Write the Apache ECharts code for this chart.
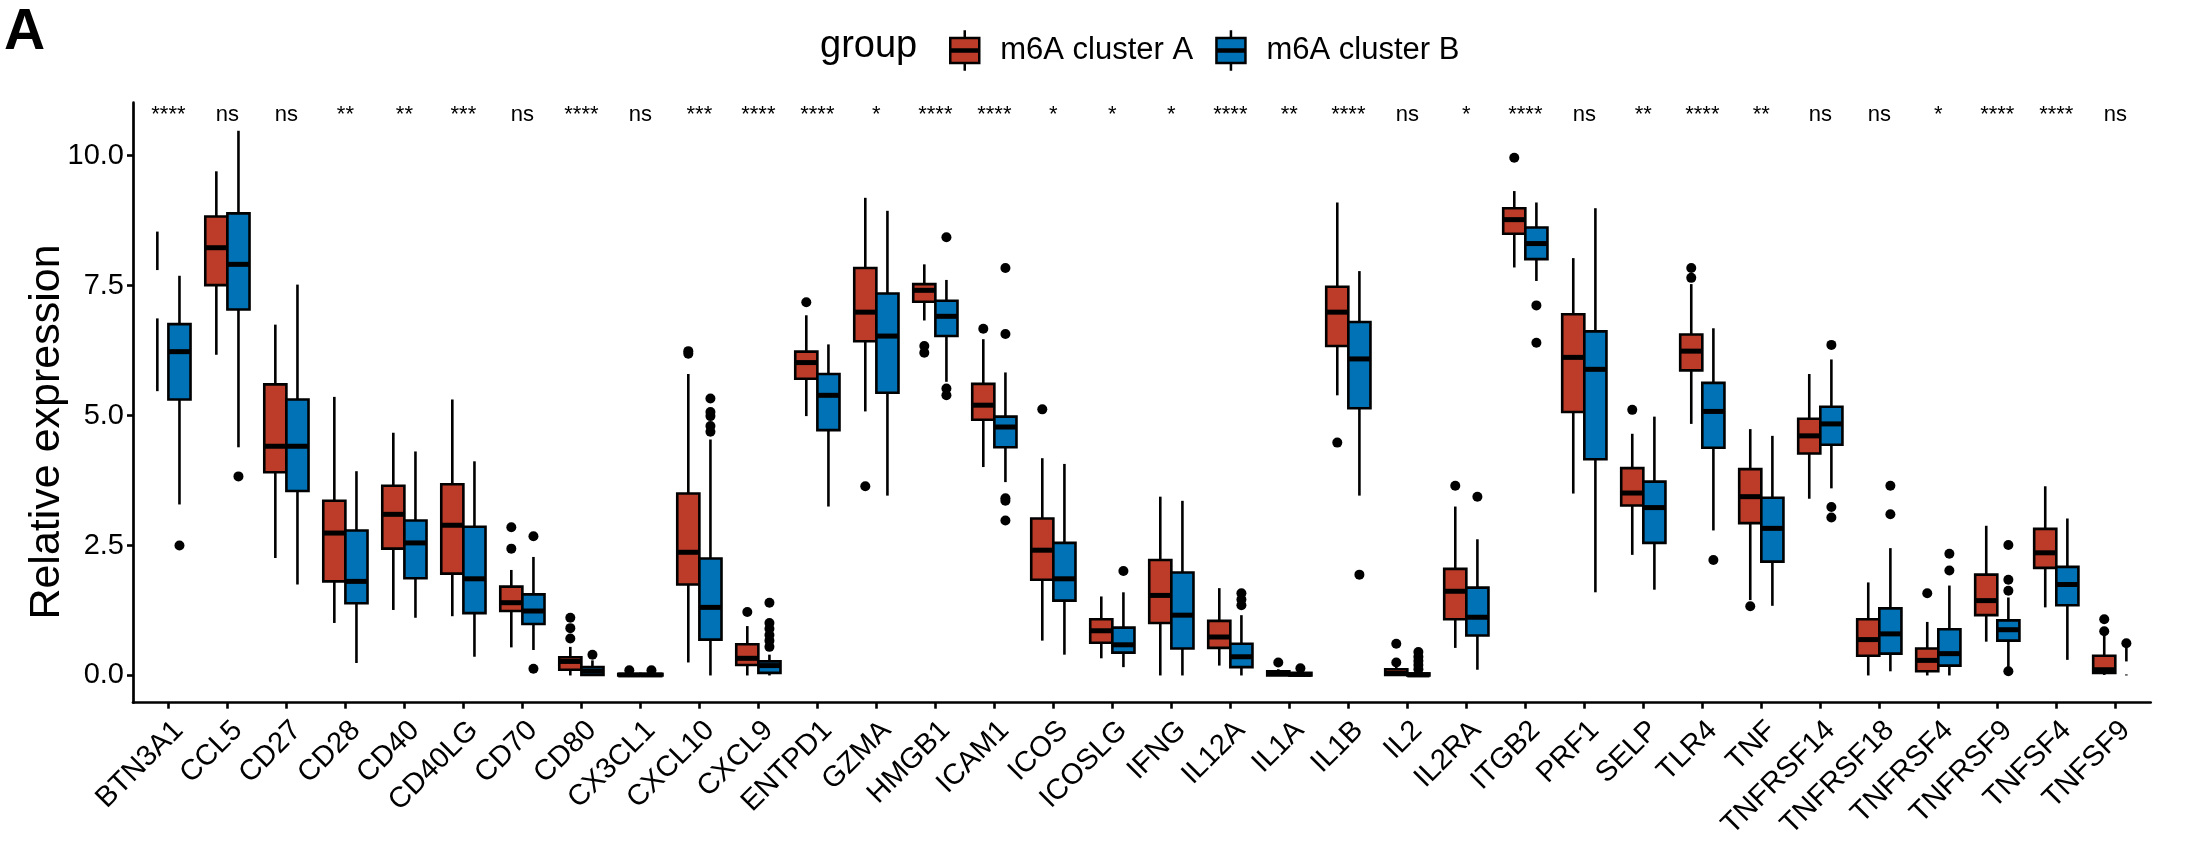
<!DOCTYPE html>
<html><head><meta charset="utf-8">
<script src="https://cdn.jsdelivr.net/npm/echarts@6/dist/echarts.min.js"></script>
<style>html,body{margin:0;padding:0;background:#fff}#chart{width:2189px;height:842px}</style>
</head><body><div id="chart"></div>
<script>
// ---------------- data ----------------
const categories = ['BTN3A1','CCL5','CD27','CD28','CD40','CD40LG','CD70','CD80','CX3CL1','CXCL10','CXCL9','ENTPD1','GZMA','HMGB1','ICAM1','ICOS','ICOSLG','IFNG','IL12A','IL1A','IL1B','IL2','IL2RA','ITGB2','PRF1','SELP','TLR4','TNF','TNFRSF14','TNFRSF18','TNFRSF4','TNFRSF9','TNFSF4','TNFSF9'];
const sigLabels = ['****','ns','ns','**','**','***','ns','****','ns','***','****','****','*','****','****','*','*','*','****','**','****','ns','*','****','ns','**','****','**','ns','ns','*','****','****','ns'];
const groupNames = ['m6A cluster A', 'm6A cluster B'];
// [lower whisker, Q1, median, Q3, upper whisker]  (median null = box not drawn)
const boxA = [
  [5.47,6.87,null,7.80,8.54],[6.17,7.51,8.23,8.83,9.70],[2.26,3.91,4.41,5.60,6.75],[1.01,1.81,2.74,3.36,5.36],
  [1.26,2.44,3.10,3.65,4.67],[1.14,1.96,2.89,3.68,5.31],[0.54,1.24,1.40,1.71,2.03],[0.00,0.11,0.27,0.35,0.55],
  [0.00,0.00,0.01,0.03,0.05],[0.25,1.75,2.37,3.50,5.80],[0.00,0.20,0.33,0.60,0.95],[4.99,5.71,6.02,6.23,6.93],
  [5.08,6.43,6.99,7.84,9.19],[6.83,7.19,7.41,7.53,7.91],[4.01,4.92,5.20,5.61,6.47],[0.67,1.84,2.41,3.02,4.18],
  [0.33,0.63,0.86,1.08,1.52],[0.00,1.01,1.54,2.22,3.44],[0.19,0.53,0.74,1.05,1.68],[0.00,0.00,0.04,0.08,0.12],
  [5.39,6.34,6.99,7.48,9.10],[0.00,0.01,0.04,0.12,0.17],[0.53,1.08,1.62,2.05,3.25],[7.85,8.50,8.77,8.99,9.32],
  [3.50,5.07,6.12,6.95,8.03],[2.32,3.27,3.51,3.99,4.65],[4.84,5.87,6.24,6.56,7.53],[1.45,2.93,3.44,3.97,4.74],
  [3.40,4.27,4.61,4.94,5.80],[0.00,0.38,0.69,1.08,1.79],[0.00,0.08,0.29,0.52,1.03],[0.65,1.16,1.44,1.94,2.88],
  [1.31,2.07,2.36,2.82,3.64],[0.01,0.05,0.11,0.38,0.78]
];
const boxB = [
  [3.29,5.31,6.23,6.76,7.69],[4.39,7.04,7.91,8.89,10.48],[1.75,3.55,4.41,5.31,7.52],[0.24,1.39,1.81,2.79,3.93],
  [1.11,1.87,2.55,2.98,4.31],[0.36,1.20,1.86,2.86,4.12],[0.49,0.99,1.24,1.56,2.28],[0.00,0.01,0.08,0.16,0.29],
  [0.00,0.00,0.01,0.03,0.05],[0.00,0.69,1.31,2.25,4.54],[0.00,0.05,0.19,0.27,0.40],[3.25,4.72,5.39,5.80,6.37],
  [3.46,5.44,6.53,7.35,8.94],[5.65,6.53,6.91,7.21,7.61],[3.72,4.39,4.78,4.98,5.83],[0.40,1.44,1.86,2.55,4.07],
  [0.16,0.44,0.59,0.92,1.60],[0.00,0.52,1.16,1.98,3.36],[0.00,0.16,0.36,0.61,1.16],[0.00,0.00,0.02,0.05,0.08],
  [3.46,5.14,6.09,6.80,7.78],[0.00,0.00,0.01,0.04,0.08],[0.11,0.77,1.12,1.69,2.62],[7.59,8.01,8.31,8.62,9.10],
  [1.60,4.16,5.89,6.62,8.99],[1.65,2.55,3.23,3.73,4.98],[2.79,4.38,5.08,5.63,6.68],[1.34,2.19,2.83,3.42,4.61],
  [3.60,4.44,4.84,5.17,6.08],[0.08,0.42,0.80,1.29,2.45],[0.00,0.19,0.42,0.89,1.73],[0.13,0.67,0.88,1.06,1.50],
  [0.30,1.35,1.75,2.09,3.02],[0.00,0.02,null,0.27,0.57]
];
const outliersA = [
  ['CD70',2.85],['CD70',2.44],['CD80',1.11],['CD80',0.91],['CD80',0.71],['CX3CL1',0.10],
  ['CXCL10',6.24],['CXCL10',6.19],['CXCL9',1.22],['ENTPD1',7.18],['GZMA',3.64],['HMGB1',6.34],['HMGB1',6.21],
  ['ICAM1',6.67],['ICOS',5.12],['IL1A',0.25],['IL1B',4.48],['IL2',0.61],['IL2',0.25],['IL2RA',3.65],
  ['ITGB2',9.96],['SELP',5.11],['TLR4',7.84],['TLR4',7.65],['TNF',1.33],['TNFRSF4',1.58],['TNFSF9',1.08],['TNFSF9',0.85]
];
const outliersB = [
  ['BTN3A1',2.50],['CCL5',3.83],['CD70',2.68],['CD70',0.13],['CD80',0.40],['CX3CL1',0.10],
  ['CXCL10',5.33],['CXCL10',5.07],['CXCL10',4.99],['CXCL10',4.80],['CXCL10',4.69],
  ['CXCL9',1.40],['CXCL9',1.01],['CXCL9',0.90],['CXCL9',0.78],['CXCL9',0.67],['CXCL9',0.55],
  ['HMGB1',8.43],['HMGB1',5.52],['HMGB1',5.39],['ICAM1',7.84],['ICAM1',6.57],['ICAM1',3.41],['ICAM1',3.36],['ICAM1',2.98],
  ['ICOSLG',2.01],['IL12A',1.58],['IL12A',1.46],['IL12A',1.35],['IL1A',0.14],['IL1B',1.94],
  ['IL2',0.45],['IL2',0.36],['IL2',0.28],['IL2',0.20],['IL2',0.12],['IL2RA',3.44],['ITGB2',7.12],['ITGB2',6.40],
  ['TLR4',2.22],['TNFRSF14',6.36],['TNFRSF14',3.24],['TNFRSF14',3.04],['TNFRSF18',3.65],['TNFRSF18',3.10],
  ['TNFRSF4',2.34],['TNFRSF4',2.02],['TNFRSF9',2.51],['TNFRSF9',1.84],['TNFRSF9',1.63],['TNFRSF9',0.08],['TNFSF9',0.62]
];
const yTicks = [0, 2.5, 5, 7.5, 10];
const sigLabelY = 10.58;

// ---------------- chart ----------------
const FONT = '"Liberation Sans", Arial, Helvetica, sans-serif';
const colors = ['#BC3C29', '#0072B5'];
const BOX_FRAC = 0.375;
const xTicks = categories.map((c, i) => i + 1);

function boxRender(side) {
  return function (params, api) {
    const xi = api.value(0);
    const band = api.size([1, 0])[0];
    const w = band * BOX_FRAC;
    const cx = api.coord([xi, 0])[0] + side * w / 2;
    const py = v => api.coord([xi, v])[1];
    const low = api.value(1), q1 = api.value(2), med = api.value(3), q3 = api.value(4), high = api.value(5);
    const ls = { stroke: '#000', lineWidth: 2.6 };
    const kids = [
      { type: 'line', shape: { x1: cx, y1: py(high), x2: cx, y2: py(q3) }, style: ls },
      { type: 'line', shape: { x1: cx, y1: py(q1), x2: cx, y2: py(low) }, style: ls }
    ];
    if (isFinite(med) && med !== null) {
      kids.push({ type: 'rect', shape: { x: cx - w / 2, y: py(q3), width: w, height: py(q1) - py(q3) },
        style: { fill: colors[side < 0 ? 0 : 1], stroke: '#000', lineWidth: 2.6 } });
      kids.push({ type: 'line', shape: { x1: cx - w / 2, y1: py(med), x2: cx + w / 2, y2: py(med) },
        style: { stroke: '#000', lineWidth: 5 } });
    }
    return { type: 'group', children: kids };
  };
}
function dotRender(side) {
  return function (params, api) {
    const xi = api.value(0);
    const w = api.size([1, 0])[0] * BOX_FRAC;
    const p = api.coord([xi, api.value(1)]);
    return { type: 'circle', shape: { cx: p[0] + side * w / 2, cy: p[1], r: 5 }, style: { fill: '#000' } };
  };
}
const toBoxData = arr => arr.map((b, i) => [i + 1, b[0], b[1], b[2], b[3], b[4]]);
const toDotData = arr => arr.map(o => [categories.indexOf(o[0]) + 1, o[1]]);

const keyPath = 'path://M15,0 L15,8 M0,8 L30,8 L30,20 L0,20 Z M0,22 L30,22 L30,34 L0,34 Z M0,20 L30,20 L30,22 L0,22 Z M15,34 L15,42';

const chart = echarts.init(document.getElementById('chart'), null, { renderer: 'canvas' });
chart.setOption({
  animation: false,
  backgroundColor: '#fff',
  textStyle: { fontFamily: FONT },
  title: [
    { text: 'A', left: 4, top: 5, padding: 0, textStyle: { fontSize: 57, fontWeight: 'bold', color: '#000', fontFamily: FONT } },
    { text: 'group', left: 820, top: 28, padding: 0, textStyle: { fontSize: 38, fontWeight: 'normal', color: '#000', fontFamily: FONT } }
  ],
  legend: {
    left: 949, top: 29, padding: 0, itemWidth: 29, itemHeight: 41, itemGap: 22,
    textStyle: { fontSize: 31, color: '#000', fontFamily: FONT, padding: [0, 0, 0, 16] },
    data: [
      { name: groupNames[0], icon: keyPath, itemStyle: { color: colors[0], borderColor: '#000', borderWidth: 2.5 } },
      { name: groupNames[1], icon: keyPath, itemStyle: { color: colors[1], borderColor: '#000', borderWidth: 2.5 } }
    ]
  },
  grid: { left: 133, right: 38.3, top: 102.7, bottom: 138, containLabel: false },
  xAxis: {
    type: 'value', min: 0.4, max: 34.6, splitLine: { show: false },
    axisLine: { show: true, onZero: false, lineStyle: { color: '#000', width: 2.7 } },
    axisTick: { show: true, customValues: xTicks, length: 6, lineStyle: { color: '#000', width: 2.6 } },
    axisLabel: { customValues: xTicks, formatter: v => categories[Math.round(v) - 1], rotate: 45,
      fontSize: 29, color: '#000', fontFamily: FONT, margin: 13, align: 'right', verticalAlign: 'top' }
  },
  yAxis: {
    type: 'value', min: -0.524, max: 11.02, splitLine: { show: false },
    axisLine: { show: true, onZero: false, lineStyle: { color: '#000', width: 2.7 } },
    axisTick: { show: true, customValues: yTicks, length: 6, lineStyle: { color: '#000', width: 2.6 } },
    axisLabel: { customValues: yTicks, formatter: v => v.toFixed(1), fontSize: 29, color: '#000', fontFamily: FONT, margin: 9 }
  },
  graphic: [{
    type: 'text', x: 47, y: 432, rotation: Math.PI / 2,
    style: { text: 'Relative expression', font: '43px ' + FONT, fill: '#000', align: 'center', verticalAlign: 'middle' }
  }],
  series: [
    { name: groupNames[0], type: 'custom', renderItem: boxRender(-1), data: toBoxData(boxA),
      encode: { x: 0, y: [1, 2, 4, 5] }, itemStyle: { color: colors[0] } },
    { name: groupNames[1], type: 'custom', renderItem: boxRender(1), data: toBoxData(boxB),
      encode: { x: 0, y: [1, 2, 4, 5] }, itemStyle: { color: colors[1] } },
    { name: 'outliers A', type: 'custom', renderItem: dotRender(-1), data: toDotData(outliersA), encode: { x: 0, y: 1 } },
    { name: 'outliers B', type: 'custom', renderItem: dotRender(1), data: toDotData(outliersB), encode: { x: 0, y: 1 } },
    { name: 'signif', type: 'custom', silent: true, data: categories.map((c, i) => [i + 1, sigLabelY]), encode: { x: 0, y: 1 },
      renderItem: (params, api) => {
        const p = api.coord([api.value(0), api.value(1)]);
        return { type: 'text', x: p[0], y: p[1],
          style: { text: sigLabels[params.dataIndex], fill: '#000', font: '22px ' + FONT, align: 'center', verticalAlign: 'bottom' } };
      } }
  ]
});
</script>
</body></html>
